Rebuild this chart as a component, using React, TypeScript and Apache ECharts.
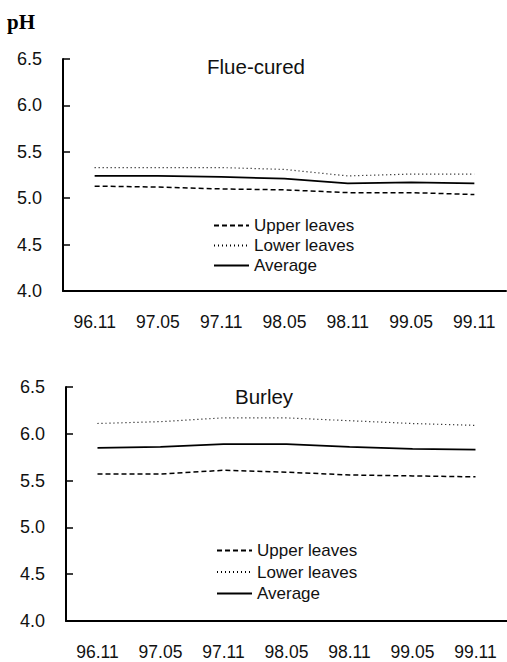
import React, { useEffect, useRef } from "react";
import * as echarts from "echarts";

const categories = ["96.11", "97.05", "97.11", "98.05", "98.11", "99.05", "99.11"];
const yTicks = [4.0, 4.5, 5.0, 5.5, 6.0, 6.5];

const flueUpper = [5.13, 5.12, 5.1, 5.09, 5.06, 5.06, 5.04];
const flueLower = [5.33, 5.33, 5.33, 5.31, 5.24, 5.26, 5.26];
const flueAverage = [5.24, 5.24, 5.23, 5.21, 5.16, 5.17, 5.16];

const burleyUpper = [5.57, 5.57, 5.61, 5.59, 5.56, 5.55, 5.54];
const burleyLower = [6.11, 6.13, 6.17, 6.17, 6.14, 6.11, 6.09];
const burleyAverage = [5.85, 5.86, 5.89, 5.89, 5.86, 5.84, 5.83];

const seriesNames = ["Upper leaves", "Lower leaves", "Average"];
const panelTitles = ["Flue-cured", "Burley"];
const yAxisTitle = "pH";

const FONT = "'Liberation Sans', Arial, sans-serif";

export default function App() {
  const ref = useRef<HTMLDivElement>(null);

  useEffect(() => {
    if (!ref.current) return;
    const chart = echarts.init(ref.current, null, { renderer: "svg" });

    const lineStyles = [
      { color: "#000", width: 1.5, type: [5, 3] },
      { color: "#000", width: 1.2, type: [1, 3] },
      { color: "#000", width: 1.8, type: "solid" },
    ];

    const makeSeries = (data: number[][], idx: number) =>
      data.map((d, i) => ({
        name: seriesNames[i],
        type: "line",
        xAxisIndex: idx,
        yAxisIndex: idx,
        data: d,
        symbol: "none",
        showSymbol: false,
        lineStyle: lineStyles[i],
        itemStyle: { color: "#000" },
        silent: true,
      }));

    const xAxisBase = (gridIndex: number) => ({
      type: "category",
      gridIndex,
      data: categories,
      boundaryGap: true,
      axisLine: { lineStyle: { color: "#000", width: 2 } },
      axisTick: { inside: true, length: 6, interval: 0, lineStyle: { color: "#000", width: 1.5 } },
      axisLabel: { interval: 0, margin: 22, color: "#111", fontSize: 17.5, fontFamily: FONT },
      splitLine: { show: false },
    });

    const yAxisBase = (gridIndex: number) => ({
      type: "value",
      gridIndex,
      min: yTicks[0],
      max: yTicks[yTicks.length - 1],
      interval: 0.5,
      axisLine: { show: true, lineStyle: { color: "#000", width: 2 } },
      axisTick: { show: true, inside: true, length: 7, lineStyle: { color: "#000", width: 1.5 } },
      axisLabel: {
        margin: 21,
        color: "#111",
        fontSize: 18,
        fontFamily: FONT,
        formatter: (v: number) => v.toFixed(1),
      },
      splitLine: { show: false },
    });

    const legendBase = (left: number, top: number, gap: number) => ({
      orient: "vertical",
      left,
      top,
      itemWidth: 35,
      itemHeight: 14,
      itemGap: gap,
      padding: 0,
      selectedMode: false,
      data: seriesNames,
      itemStyle: { opacity: 0, borderWidth: 0 },
      textStyle: { color: "#111", fontSize: 17, fontFamily: FONT },
    });

    chart.setOption({
      animation: false,
      backgroundColor: "#fff",
      title: [
        {
          text: yAxisTitle,
          left: 7,
          top: 11,
          padding: 0,
          textStyle: { fontFamily: "'Liberation Serif', 'Times New Roman', serif", fontWeight: "bold", fontSize: 21, color: "#000" },
        },
        {
          text: panelTitles[0],
          left: 207,
          top: 56,
          padding: 0,
          textStyle: { fontFamily: FONT, fontWeight: "normal", fontSize: 20.5, color: "#111" },
        },
        {
          text: panelTitles[1],
          left: 235,
          top: 386,
          padding: 0,
          textStyle: { fontFamily: FONT, fontWeight: "normal", fontSize: 20.5, color: "#111" },
        },
      ],
      legend: [legendBase(213, 217, 3), legendBase(216, 542, 4.5)],
      grid: [
        { left: 63, top: 59, width: 443, height: 232, containLabel: false },
        { left: 66, top: 387, width: 443, height: 234, containLabel: false },
      ],
      xAxis: [xAxisBase(0), xAxisBase(1)],
      yAxis: [yAxisBase(0), yAxisBase(1)],
      series: [
        ...makeSeries([flueUpper, flueLower, flueAverage], 0),
        ...makeSeries([burleyUpper, burleyLower, burleyAverage], 1),
      ],
    });

    return () => chart.dispose();
  }, []);

  return (
    <div
      ref={ref}
      style={{ position: "fixed", left: 0, top: 0, width: 507, height: 662, background: "#fff" }}
    />
  );
}
